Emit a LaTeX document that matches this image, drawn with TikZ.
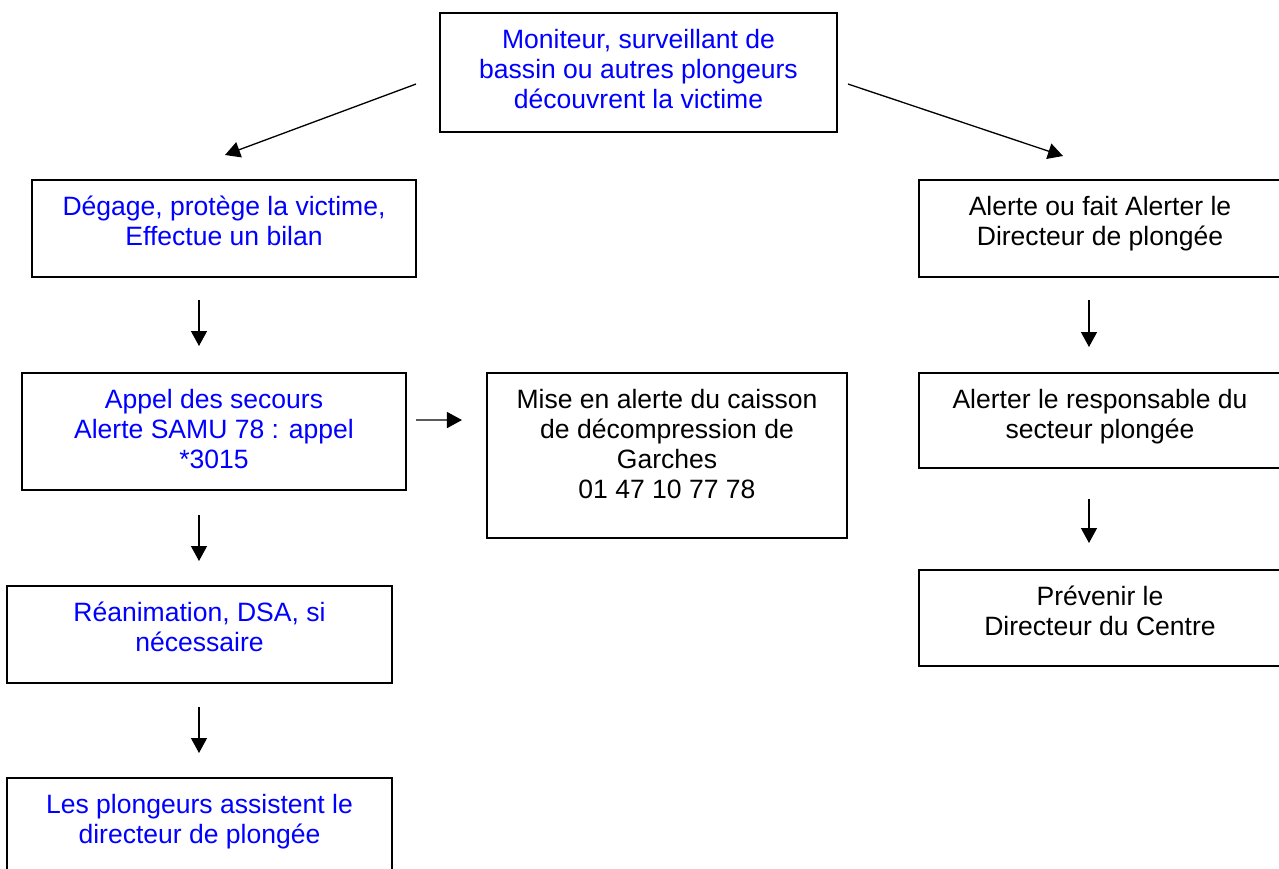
\documentclass[tikz,border=0pt]{standalone}
\usepackage{fontspec}
\setmainfont{Liberation Sans}
\usepackage{tikz}
\usetikzlibrary{arrows.meta}

\definecolor{txtblue}{RGB}{0,0,255}
\newcommand{\lignes}[1]{\begin{tabular}[t]{@{}c@{}}#1\end{tabular}}

\tikzset{
  box/.style={draw,line width=1.2pt,inner sep=0pt,anchor=north,
    minimum width=#1,text height=0.7cm,
    font=\fontsize{15.1}{17.1}\selectfont},
  bleu/.style={text=txtblue}
}

\begin{document}
\begin{tikzpicture}[x=0.02cm,y=-0.02cm,>={Triangle[length=0.3cm,width=0.32cm]},line width=0.75pt]
\useasboundingbox (0,0) rectangle (1279,869);

\node[box=7.94cm,bleu,text depth=1.68cm] (top) at (638.5,12)
  {\lignes{Moniteur, surveillant de\\bassin ou autres plongeurs\\découvrent la victime}};

\node[box=7.68cm,bleu,text depth=1.24cm] (l1) at (224,179)
  {\lignes{Dégage, protège la victime,\\Effectue un bilan}};
\node[box=7.68cm,bleu,text depth=1.64cm] (l2) at (214,372)
  {\lignes{Appel des secours\\Alerte SAMU 78 : appel\\{*}3015}};
\node[box=7.7cm,bleu,text depth=1.24cm] (l3) at (199.5,585)
  {\lignes{Réanimation, DSA, si\\nécessaire}};
\node[box=7.7cm,bleu,text depth=1.24cm] (l4) at (199.5,777)
  {\lignes{Les plongeurs assistent le\\directeur de plongée}};

\node[box=7.2cm,text depth=2.6cm] (mid) at (667,372)
  {\lignes{Mise en alerte du caisson\\de décompression de\\Garches\\01 47 10 77 78}};

\node[box=7.24cm,text depth=1.24cm] (r1) at (1100,179)
  {\lignes{Alerte ou fait Alerter le\\Directeur de plongée}};
\node[box=7.24cm,text depth=1.2cm] (r2) at (1100,372)
  {\lignes{Alerter le responsable du\\secteur plongée}};
\node[box=7.24cm,text depth=1.22cm] (r3) at (1100,569)
  {\lignes{Prévenir le\\Directeur du Centre}};

\path[->] ([shift={(-23,11.5)}]top.west) edge ([shift={(1,-24)}]l1.north)
          ([shift={(10,11.5)}]top.east)  edge ([shift={(-37,-23)}]r1.north)
          ([shift={(-25,22)}]l1.south)   edge ([shift={(-15,-26)}]l2.north)
          ([shift={(-15,24)}]l2.south)   edge ([shift={(-0.5,-24)}]l3.north)
          ([shift={(-0.5,23)}]l3.south)  edge ([shift={(-0.5,-24)}]l4.north)
          ([shift={(9,-11.5)}]l2.east)   edge ([shift={(-24,-35.5)}]mid.west)
          ([shift={(-11,22)}]r1.south)   edge ([shift={(-11,-25)}]r2.north)
          ([shift={(-11,30)}]r2.south)   edge ([shift={(-11,-26)}]r3.north);
\end{tikzpicture}
\end{document}
